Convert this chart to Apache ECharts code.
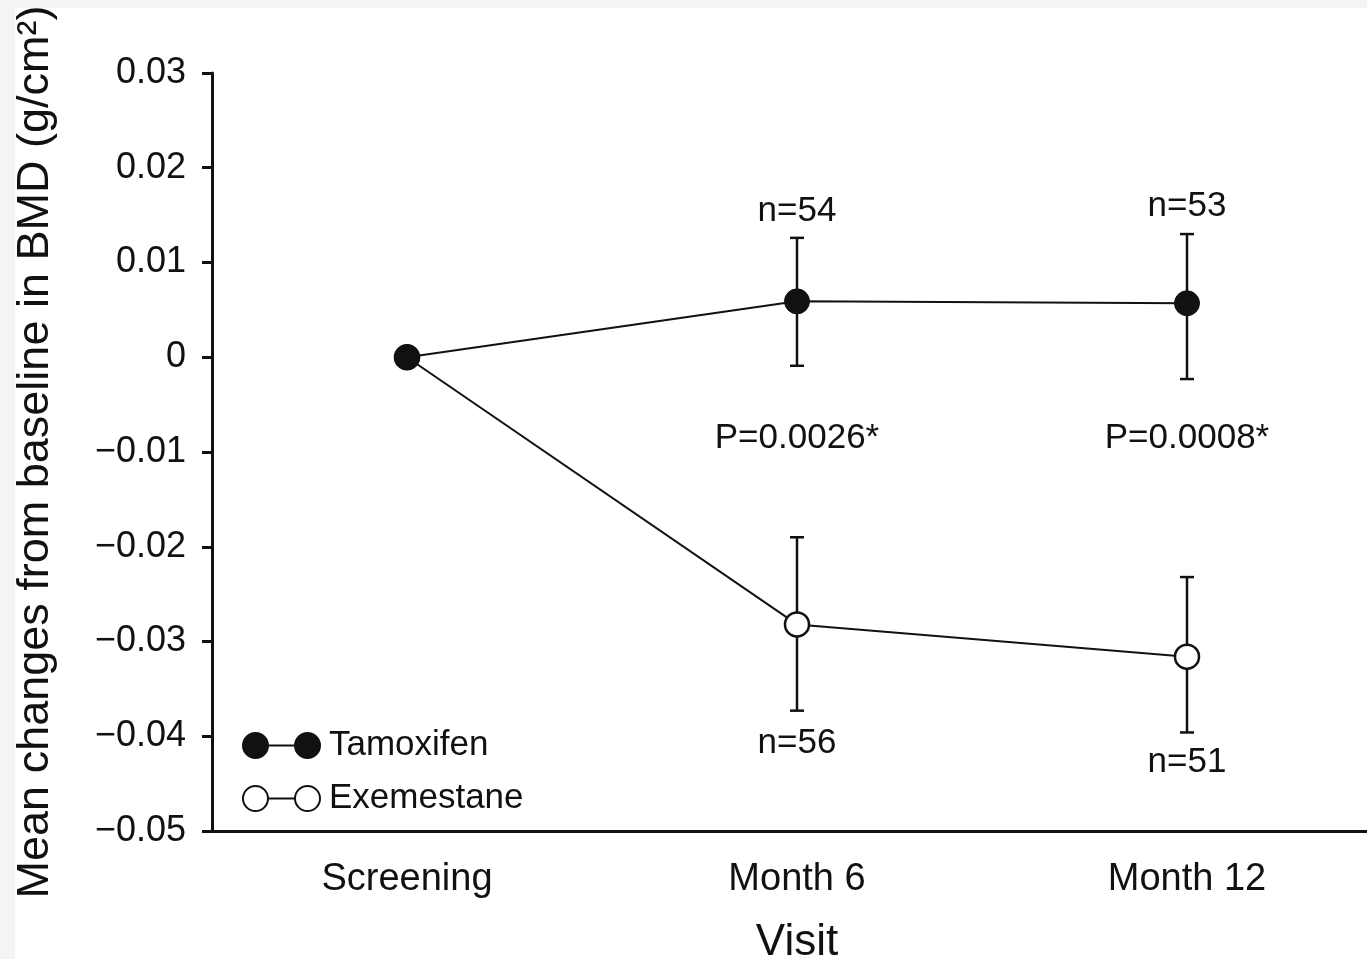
<!DOCTYPE html>
<html>
<head>
<meta charset="utf-8">
<script src="https://cdn.jsdelivr.net/npm/echarts@6/dist/echarts.min.js"></script>
<style>
  html, body { margin: 0; padding: 0; background: #ffffff; }
  #chart { width: 1367px; height: 959px; }
</style>
</head>
<body>
<div id="chart"></div>
<script>
// visits on the x axis
const categories = ["Screening", "Month 6", "Month 12"];

// mean change from baseline and error bar ends (g/cm2)
const tamoxifenMean = [0, 0.0059, 0.0057];
const tamoxifenLow = [null, -0.0009, -0.0023];
const tamoxifenHigh = [null, 0.0126, 0.013];
const exemestaneMean = [0, -0.0282, -0.0316];
const exemestaneLow = [null, -0.0373, -0.0396];
const exemestaneHigh = [null, -0.019, -0.0232];

// text annotations (n counts and p values)
const noteVisits = ["Month 6", "Month 12", "Month 6", "Month 12", "Month 6", "Month 12"];
const noteValues = [0.0154, 0.0159, -0.0407, -0.0428, -0.0086, -0.0086];
const noteTexts = ["n=54", "n=53", "n=56", "n=51", "P=0.0026*", "P=0.0008*"];

const FONT = "Liberation Sans, Arial, Helvetica, sans-serif";

const chart = echarts.init(document.getElementById("chart"));

function errorBars(low, high) {
  const out = [];
  low.forEach((lo, i) => {
    if (lo !== null) out.push([i, lo, high[i]]);
  });
  return out;
}

const barData = errorBars(tamoxifenLow, tamoxifenHigh).concat(
  errorBars(exemestaneLow, exemestaneHigh)
);

const renderErrorBar = (params, api) => {
  const lo = api.coord([api.value(0), api.value(1)]);
  const hi = api.coord([api.value(0), api.value(2)]);
  const cap = 7;
  const style = { stroke: "#111", lineWidth: 2.5 };
  return {
    type: "group",
    children: [
      { type: "line", shape: { x1: lo[0], y1: lo[1], x2: hi[0], y2: hi[1] }, style },
      { type: "line", shape: { x1: lo[0] - cap, y1: lo[1], x2: lo[0] + cap, y2: lo[1] }, style },
      { type: "line", shape: { x1: hi[0] - cap, y1: hi[1], x2: hi[0] + cap, y2: hi[1] }, style },
    ],
  };
};

// two circles joined by a line
const pairIcon =
  "path://M0,12.5A12.5,12.5 0 1,1 25,12.5A12.5,12.5 0 1,1 0,12.5Z" +
  "M52,12.5A12.5,12.5 0 1,1 77,12.5A12.5,12.5 0 1,1 52,12.5Z" +
  "M25,12.5L52,12.5";

const option = {
  animation: false,
  backgroundColor: "#ffffff",
  textStyle: { fontFamily: FONT, color: "#111" },
  graphic: [
    { type: "rect", left: 0, top: 0, shape: { width: 1367, height: 8 }, style: { fill: "#f4f4f4" }, z: -10 },
    { type: "rect", left: 0, top: 0, shape: { width: 15, height: 959 }, style: { fill: "#f4f4f4" }, z: -10 },
  ],
  grid: {
    left: 212,
    top: 73,
    width: 1170,
    height: 758,
    outerBoundsMode: "none",
    containLabel: false,
  },
  legend: {
    orient: "vertical",
    left: 237,
    top: 723,
    itemWidth: 77,
    itemHeight: 25,
    itemGap: 18,
    textStyle: { fontFamily: FONT, fontSize: 35, color: "#111", padding: [0, 0, 0, 4] },
    data: [
      {
        name: "Tamoxifen",
        icon: pairIcon,
        itemStyle: { color: "#111", borderColor: "#111", borderWidth: 2 },
      },
      {
        name: "Exemestane",
        icon: pairIcon,
        itemStyle: { color: "#fff", borderColor: "#111", borderWidth: 2 },
      },
    ],
  },
  xAxis: {
    type: "category",
    data: categories,
    boundaryGap: true,
    name: "Visit",
    nameLocation: "middle",
    nameGap: 90,
    nameTextStyle: { fontFamily: FONT, fontSize: 44, color: "#111" },
    axisLine: { onZero: false, lineStyle: { color: "#111", width: 3 } },
    axisTick: { alignWithLabel: true, length: 9, lineStyle: { color: "#111", width: 3 } },
    axisLabel: { fontFamily: FONT, fontSize: 38, color: "#111", margin: 30 },
    splitLine: { show: false },
  },
  yAxis: {
    type: "value",
    min: -0.05,
    max: 0.03,
    interval: 0.01,
    name: "Mean changes from baseline in BMD (g/cm\u00b2)",
    nameLocation: "middle",
    nameGap: 154,
    nameTextStyle: { fontFamily: FONT, fontSize: 45, color: "#111" },
    axisLine: { show: true, lineStyle: { color: "#111", width: 3 } },
    axisTick: { show: true, length: 10, lineStyle: { color: "#111", width: 3 } },
    axisLabel: {
      fontFamily: FONT,
      fontSize: 36,
      color: "#111",
      margin: 26,
      formatter: (v) => (Math.abs(v) < 1e-9 ? "0" : v.toFixed(2).replace("-", "\u2212")),
    },
    splitLine: { show: false },
  },
  series: [
    {
      name: "bars",
      type: "custom",
      z: 1,
      renderItem: renderErrorBar,
      data: barData,
      silent: true,
    },
    {
      name: "Exemestane",
      type: "line",
      z: 3,
      data: exemestaneMean,
      symbol: "circle",
      symbolSize: 24,
      lineStyle: { color: "#111", width: 2 },
      itemStyle: { color: "#fff", borderColor: "#111", borderWidth: 2.5 },
    },
    {
      name: "Tamoxifen",
      type: "line",
      z: 4,
      data: tamoxifenMean,
      symbol: "circle",
      symbolSize: 25,
      lineStyle: { color: "#111", width: 2 },
      itemStyle: { color: "#111", borderColor: "#111", borderWidth: 1 },
    },
    {
      name: "notes",
      type: "scatter",
      z: 5,
      symbolSize: 0,
      silent: true,
      itemStyle: { opacity: 1 },
      label: {
        show: true,
        position: "inside",
        fontFamily: FONT,
        fontSize: 35,
        color: "#111",
        formatter: (p) => p.name,
      },
      data: noteTexts.map((t, i) => ({ name: t, value: [noteVisits[i], noteValues[i]] })),
    },
  ],
};

chart.setOption(option);
</script>
</body>
</html>
